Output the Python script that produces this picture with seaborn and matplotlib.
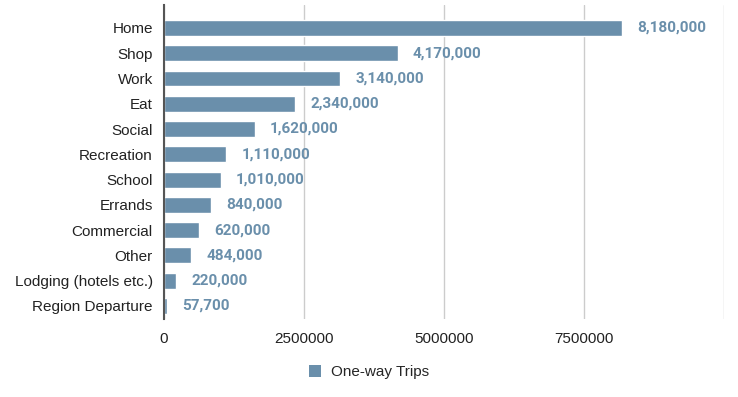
import seaborn as sns
import matplotlib.pyplot as plt
import pandas as pd
from matplotlib.patches import Patch

categories = ['Home', 'Shop', 'Work', 'Eat', 'Social', 'Recreation', 'School',
              'Errands', 'Commercial', 'Other', 'Lodging (hotels etc.)', 'Region Departure']
trips = [8180000, 4170000, 3140000, 2340000, 1620000, 1110000, 1010000,
         840000, 620000, 484000, 220000, 57700]
x_ticks = [0, 2500000, 5000000, 7500000, 10000000]
x_labels = ['0', '2500000', '5000000', '7500000', '']
series_name = 'One-way Trips'

bar_color = '#6a8fab'

sns.set_style('white')
plt.rcParams['font.family'] = ['Liberation Sans', 'DejaVu Sans']

df = pd.DataFrame({'purpose': categories, 'trips': trips})

fig = plt.figure(figsize=(7.38, 3.97), dpi=100)
ax = fig.add_axes([0.2222, 0.1975, 0.7588, 0.7895])

sns.barplot(data=df, x='trips', y='purpose', orient='h', color=bar_color,
            width=0.63, saturation=1, ax=ax, zorder=3)

ax.set_xlim(0, 10000000)
ax.set_ylim(11.5, -0.9)
ax.set_xticks(x_ticks)
ax.set_xticklabels(x_labels)
ax.grid(axis='x', color='#cccccc', linewidth=1, zorder=0)
ax.set_axisbelow(True)
for s in ['top', 'right', 'bottom']:
    ax.spines[s].set_visible(False)
ax.spines['left'].set_color('#555555')
ax.spines['left'].set_linewidth(1.5)
ax.spines['left'].set_zorder(5)
ax.tick_params(axis='both', length=0, labelsize=11, colors='#222222')
ax.tick_params(axis='y', pad=8)
ax.tick_params(axis='x', pad=10)
ax.set_xlabel('')
ax.set_ylabel('')

ax.bar_label(ax.containers[0], labels=[f'{v:,}' for v in trips], padding=11,
             color=bar_color, fontsize=11, fontweight='bold', family='Roboto')

fig.legend(handles=[Patch(facecolor=bar_color, edgecolor='none', label=series_name)],
           loc='center', bbox_to_anchor=(0.5, 0.063), frameon=False, fontsize=11,
           handlelength=0.8, handleheight=0.8, handletextpad=0.6)

fig.savefig('out.png', dpi=100)
